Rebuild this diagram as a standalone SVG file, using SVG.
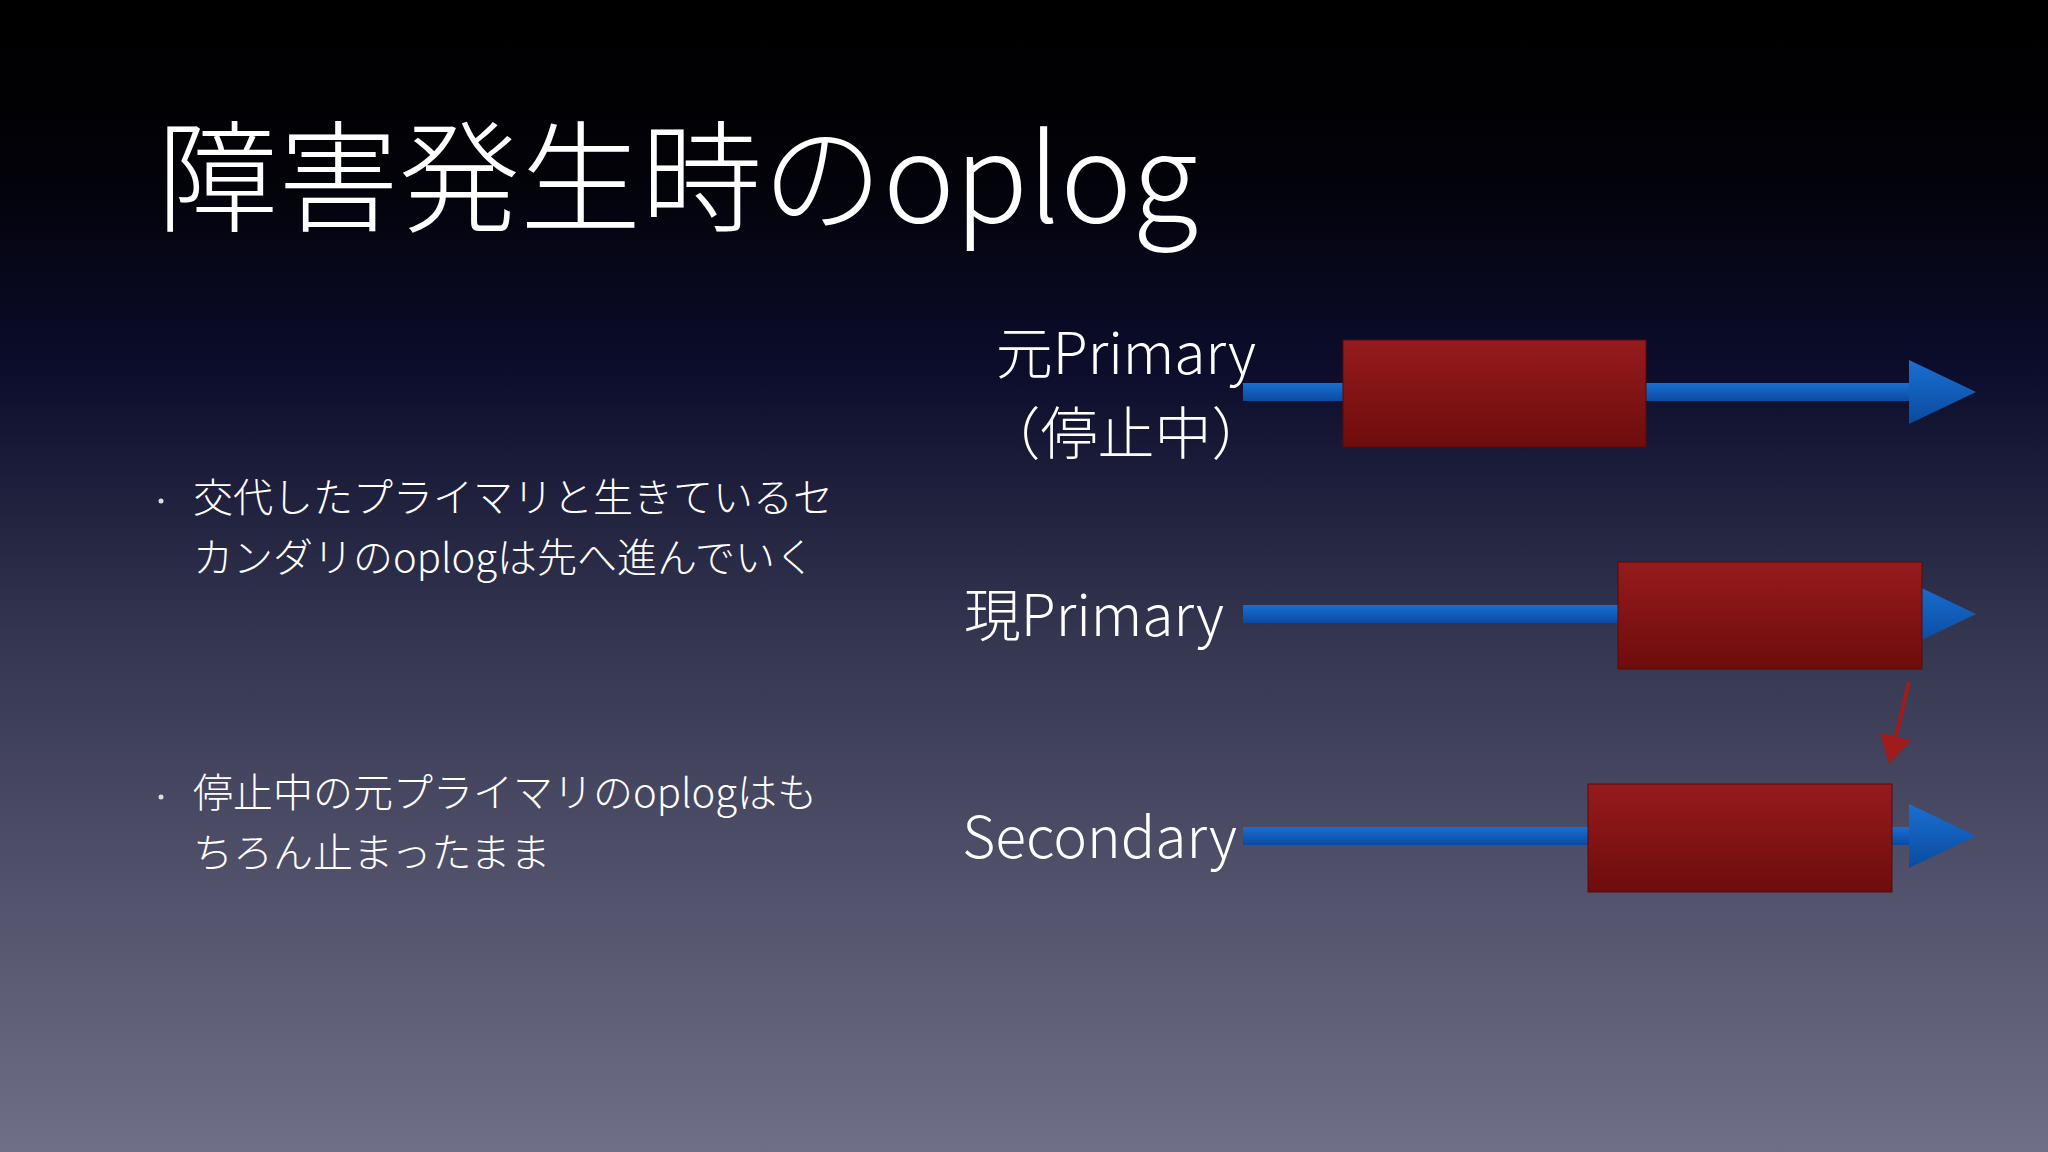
<svg xmlns="http://www.w3.org/2000/svg" width="2048" height="1152" viewBox="0 0 2048 1152">
<defs>
<linearGradient id="bg" x1="0" y1="0" x2="0" y2="1">
<stop offset="0" stop-color="#000000"/>
<stop offset="0.15" stop-color="#020208"/>
<stop offset="0.32" stop-color="#0c0d2c"/>
<stop offset="0.55" stop-color="#34354f"/>
<stop offset="1" stop-color="#706f88"/>
</linearGradient>
<linearGradient id="red" x1="0" y1="0" x2="0" y2="1">
<stop offset="0" stop-color="#961b1d"/>
<stop offset="1" stop-color="#6e0c0c"/>
</linearGradient>
<linearGradient id="blue" x1="0" y1="0" x2="0" y2="1">
<stop offset="0" stop-color="#1a6fd0"/>
<stop offset="1" stop-color="#0a4aa0"/>
</linearGradient>
<marker id="rh" markerWidth="8" markerHeight="8" refX="6" refY="4" orient="auto" markerUnits="strokeWidth"><path d="M0,0 L7,4 L0,8 Z" fill="#a01c1c"/></marker>
</defs>
<style>
.t{font-family:"Noto Sans CJK JP","Noto Sans",sans-serif;fill:#ffffff;font-weight:300}
.b{font-size:40px}
.l{font-size:57px}
.box{fill:url(#red);stroke:#5a0808;stroke-width:1}
.ln{fill:url(#blue)}
</style>
<rect width="2048" height="1152" fill="url(#bg)"/>
<text class="t" x="157" y="222" font-size="121">障害発生時のoplog</text>
<g id="bullets">
<circle cx="161" cy="501" r="2.5" fill="#ddd"/>
<text class="t b" x="193" y="512">交代したプライマリと生きているセ</text>
<text class="t b" x="193" y="572">カンダリのoplogは先へ進んでいく</text>
<circle cx="161" cy="797" r="2.5" fill="#ddd"/>
<text class="t b" x="193" y="807">停止中の元プライマリのoplogはも</text>
<text class="t b" x="193" y="867">ちろん止まったまま</text>
</g>
<g id="connectors">
<rect class="ln" x="1243" y="383" width="666" height="18"/>
<polygon class="ln" points="1909,360 1976,392 1909,424"/>
<rect class="ln" x="1243" y="605" width="666" height="18"/>
<polygon class="ln" points="1909,582 1976,614 1909,646"/>
<rect class="ln" x="1243" y="827" width="666" height="18"/>
<polygon class="ln" points="1909,804 1976,836 1909,868"/>
<line x1="1909" y1="682" x2="1890" y2="760" stroke="#a01c1c" stroke-width="4" marker-end="url(#rh)"/>
</g>
<g id="old-primary">
<text class="t l" x="1256" y="374" text-anchor="end">元Primary</text>
<text class="t l" x="1126" y="454" text-anchor="middle">（停止中）</text>
<rect class="box" x="1343" y="340" width="303" height="107"/>
</g>
<g id="new-primary">
<text class="t l" x="1224" y="636" text-anchor="end">現Primary</text>
<rect class="box" x="1618" y="562" width="304" height="107"/>
</g>
<g id="secondary">
<text class="t l" x="1237" y="858" text-anchor="end">Secondary</text>
<rect class="box" x="1588" y="784" width="304" height="108"/>
</g>
</svg>
